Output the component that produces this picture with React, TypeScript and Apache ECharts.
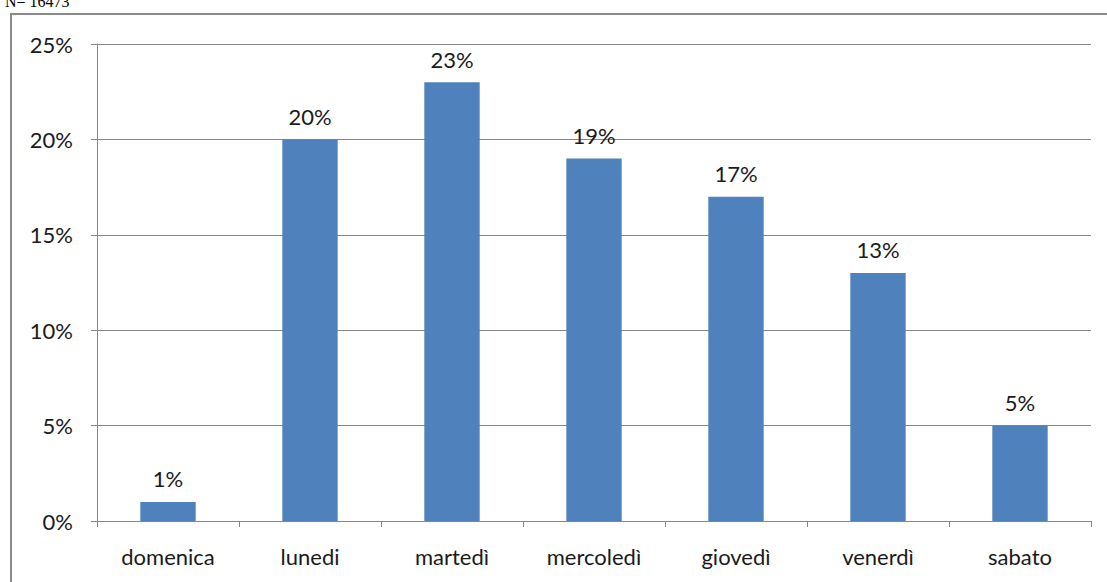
import React, { useEffect, useRef } from "react";
import * as echarts from "echarts";

const categories = ["domenica", "lunedi", "martedì", "mercoledì", "giovedì", "venerdì", "sabato"];
const values = [1, 20, 23, 19, 17, 13, 5];
const yTicks = [0, 5, 10, 15, 20, 25];
const noteText = "N= 16473";

export default function App() {
  const ref = useRef<HTMLDivElement>(null);
  useEffect(() => {
    const chart = echarts.init(ref.current!, undefined, { renderer: "svg" });
    const font = "Lato, 'Open Sans', sans-serif";
    chart.setOption({
      animation: false,
      backgroundColor: "#ffffff",
      grid: { left: 97, right: 16, top: 44, bottom: 61, containLabel: false },
      graphic: [
        {
          type: "rect",
          shape: { x: 11, y: 14, width: 1200, height: 700 },
          style: { fill: "none", stroke: "#8a8a8a", lineWidth: 2 },
          silent: true,
        },
        {
          type: "text",
          x: 5,
          y: 9,
          style: {
            text: noteText,
            font: "16px 'Liberation Serif', 'DejaVu Serif', serif",
            fill: "#000",
            verticalAlign: "bottom",
          },
          silent: true,
        },
      ],
      xAxis: {
        type: "category",
        data: categories,
        axisLine: { lineStyle: { color: "#868686", width: 1 } },
        axisTick: { show: true, length: 6, lineStyle: { color: "#868686" } },
        axisLabel: { color: "#1a1a1a", fontSize: 22, fontFamily: font, margin: 24 },
      },
      yAxis: {
        type: "value",
        min: yTicks[0],
        max: yTicks[yTicks.length - 1],
        interval: 5,
        axisLine: { show: true, lineStyle: { color: "#868686", width: 1 } },
        axisTick: { show: true, inside: false, length: 6, lineStyle: { color: "#868686" } },
        splitLine: { show: true, lineStyle: { color: "#868686", width: 1 } },
        axisLabel: {
          color: "#1a1a1a",
          fontSize: 22,
          fontFamily: font,
          margin: 24,
          formatter: (v: number) => `${v}%`,
        },
      },
      series: [
        {
          type: "bar",
          data: values,
          barWidth: "39%",
          itemStyle: { color: "#4F81BD" },
          label: {
            show: true,
            position: "top",
            distance: 12,
            color: "#1a1a1a",
            fontSize: 22,
            fontFamily: font,
            formatter: (p: any) => `${p.value}%`,
          },
        },
      ],
    });
    return () => chart.dispose();
  }, []);
  return (
    <div
      ref={ref}
      style={{ position: "fixed", left: 0, top: 0, width: 1107, height: 582 }}
    />
  );
}
